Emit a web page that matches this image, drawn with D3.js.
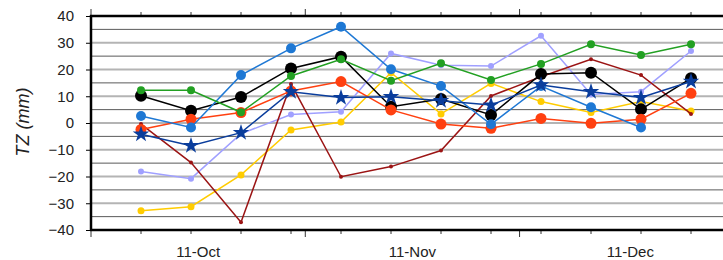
<!DOCTYPE html>
<html>
<head>
<meta charset="utf-8">
<script src="https://cdn.jsdelivr.net/npm/d3@7"></script>
<style>
body{margin:0;background:#fff;}
text{font-family:"Liberation Sans",Arial,sans-serif;}
</style>
</head>
<body>
<script>
// weekly dates (2011)
var dates = ["2011-10-09","2011-10-16","2011-10-23","2011-10-30","2011-11-06","2011-11-13",
             "2011-11-20","2011-11-27","2011-12-04","2011-12-11","2011-12-18","2011-12-25"];
var yTicks = [-40,-30,-20,-10,0,10,20,30,40];
var monthLabels = ["11-Oct","11-Nov","11-Dec"];

var yellow  = [-32.8,-31.3,-19.4,-2.6,0.4,18.8,3.4,14.8,8.0,3.9,8.0,4.5];
var purple  = [-18.1,-20.8,-4.0,3.2,4.2,26.0,21.6,21.3,32.6,10.7,11.7,26.9];
var darkred = [-0.4,-14.8,-37.1,14.6,-20.1,-16.3,-10.3,10.1,17.3,23.8,17.9,3.4];
var black   = [10.2,4.6,9.7,20.4,24.8,6.1,9.0,3.0,18.3,18.8,5.1,16.7];
var red     = [-2.4,1.4,3.9,12.0,15.5,4.9,-0.4,-2.0,1.7,-0.1,1.4,11.1];
var blue    = [2.6,-1.7,17.9,27.9,36.0,20.1,13.8,-0.5,13.8,5.9,-1.7,null];
var green   = [12.2,12.2,4.0,17.6,23.8,15.8,22.3,16.1,22.1,29.4,25.4,29.4];
var stars   = [-4.2,-8.5,-3.6,11.7,9.5,9.8,8.3,6.7,14.2,11.7,9.5,15.5];

var series = [
  {name:"yellow", values:yellow, color:"#ffcc00", r:3.5},
  {name:"purple", values:purple, color:"#a0a0ff", r:3},
  {name:"darkred", values:darkred, color:"#9b1414", r:2},
  {name:"black", values:black, color:"#000000", r:6},
  {name:"red", values:red, color:"#ff4010", r:5.5},
  {name:"blue", values:blue, color:"#1e78d4", r:5},
  {name:"green", values:green, color:"#22a022", r:4},
  {name:"stars", values:stars, color:"#0a3d9c", star:true}
];

var width = 723, height = 260;
var parse = d3.timeParse("%Y-%m-%d");
var dateObjs = dates.map(parse);

var x = d3.scaleTime()
          .domain([parse("2011-10-02"), parse("2012-01-01")])
          .range([91, 741]);
var y = d3.scaleLinear().domain([-40,40]).range([230,16]);

var svg = d3.select("body").append("svg")
            .attr("width",width).attr("height",height);

// gridlines: light at 10s, dark thin at 5s
d3.range(-35,40,5).forEach(function(v){
    var major = v % 10 == 0;
    svg.append("line")
       .attr("x1",91).attr("x2",width)
       .attr("y1",y(v)).attr("y2",y(v))
       .attr("stroke", major ? "#b4b4b4" : "#5a5a5a")
       .attr("stroke-width", major ? 2 : 1);
});

// y axis
var yAxis = d3.axisLeft(y).tickValues(yTicks).tickSize(5).tickPadding(12);
var gy = svg.append("g").attr("transform","translate(91,0)").call(yAxis);
gy.select(".domain").remove();
gy.selectAll("text").style("font-size","15px").attr("fill","#222");
gy.selectAll("line").attr("stroke","#000");

// ticks at data dates and month boundaries (top and bottom)
var monthBounds = [parse("2011-10-02"), parse("2011-11-01"), parse("2011-12-01")];
dateObjs.forEach(function(d){
    [[16,-4],[230,4]].forEach(function(p){
        svg.append("line").attr("x1",x(d)).attr("x2",x(d))
           .attr("y1",p[0]).attr("y2",p[0]+p[1]).attr("stroke","#333");
    });
});
monthBounds.forEach(function(d){
    [[16,-7],[230,7]].forEach(function(p){
        svg.append("line").attr("x1",x(d)).attr("x2",x(d))
           .attr("y1",p[0]).attr("y2",p[0]+p[1]).attr("stroke","#333");
    });
});

// month labels centered in their interval
var monthEdges = [parse("2011-10-02"), parse("2011-11-01"), parse("2011-12-01"), parse("2012-01-01")];
monthLabels.forEach(function(m,i){
    svg.append("text")
       .attr("x",(x(monthEdges[i])+x(monthEdges[i+1]))/2)
       .attr("y",257)
       .attr("text-anchor","middle")
       .style("font-size","15px")
       .attr("fill","#222")
       .text(m);
});

// frame
svg.append("line").attr("x1",90).attr("x2",width).attr("y1",16).attr("y2",16)
   .attr("stroke","#000").attr("stroke-width",2.5);
svg.append("line").attr("x1",90).attr("x2",width).attr("y1",230).attr("y2",230)
   .attr("stroke","#000").attr("stroke-width",2.5);
svg.append("line").attr("x1",91).attr("x2",91).attr("y1",15).attr("y2",231)
   .attr("stroke","#000").attr("stroke-width",2.5);

// y title
svg.append("text")
   .attr("transform","translate(29,122) rotate(-90)")
   .attr("text-anchor","middle")
   .style("font-size","18px").style("font-style","italic")
   .attr("fill","#222")
   .text("TZ (mm)");

var line = d3.line()
             .defined(function(d){return d.v != null;})
             .x(function(d){return x(d.date);})
             .y(function(d){return y(d.v);});

var starSym = d3.symbol().type(d3.symbolStar).size(85);

series.forEach(function(s){
    var pts = s.values.map(function(v,i){return {date:dateObjs[i], v:v};})
                      .filter(function(d){return d.v != null;});
    var g = svg.append("g").attr("class","series-"+s.name);
    g.append("path").datum(pts)
     .attr("d",line)
     .attr("fill","none")
     .attr("stroke",s.color)
     .attr("stroke-width",1.5);
    if(s.star){
        g.selectAll("path.mark").data(pts).enter()
         .append("path").attr("class","mark")
         .attr("d",starSym)
         .attr("transform",function(d){return "translate("+x(d.date)+","+y(d.v)+")";})
         .attr("fill",s.color);
    } else {
        g.selectAll("circle").data(pts).enter()
         .append("circle")
         .attr("cx",function(d){return x(d.date);})
         .attr("cy",function(d){return y(d.v);})
         .attr("r",s.r)
         .attr("fill",s.color);
    }
});
</script>
</body>
</html>
